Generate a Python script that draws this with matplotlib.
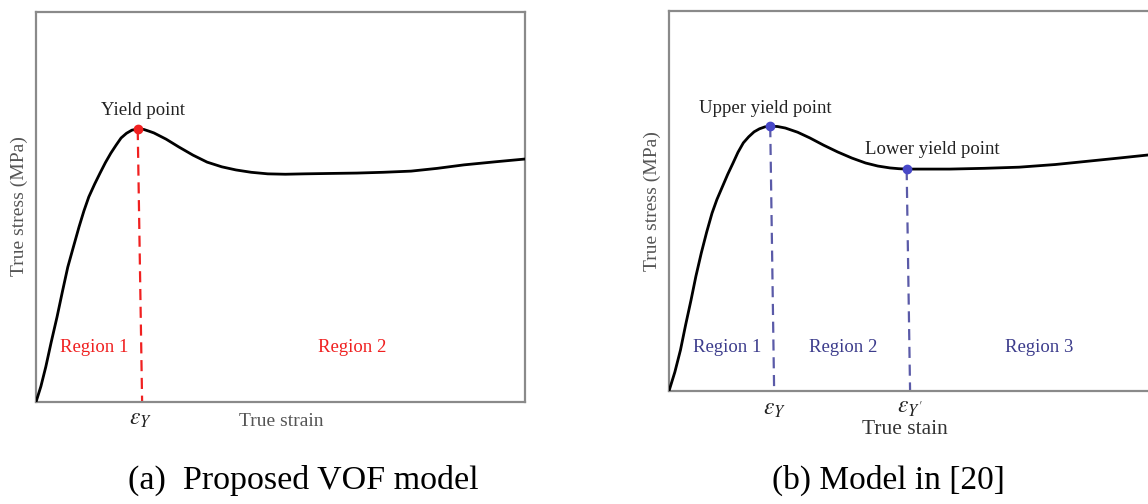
import matplotlib
matplotlib.use("Agg")
import matplotlib.pyplot as plt

plt.rcParams['font.family'] = ['Liberation Serif', 'DejaVu Serif']
plt.rcParams['mathtext.fontset'] = 'stix'

# ---- data (normalised strain 0..1, stress as % of axis height) ----
strain_a = [0.000, 0.010, 0.020, 0.031, 0.043, 0.054, 0.065, 0.077, 0.088, 0.098,
            0.108, 0.120, 0.131, 0.142, 0.153, 0.164, 0.174, 0.185, 0.196, 0.208,
            0.220, 0.232, 0.241, 0.266, 0.292, 0.321, 0.350, 0.380, 0.409, 0.440,
            0.474, 0.510, 0.548, 0.600, 0.656, 0.710, 0.767, 0.820, 0.875, 0.940, 1.000]
stress_a = [0.0, 4.0, 9.0, 15.3, 21.8, 28.3, 34.6, 40.0, 44.9, 49.0,
            52.6, 55.9, 58.7, 61.4, 63.8, 65.9, 67.7, 68.9, 69.7, 70.0,
            69.9, 69.4, 69.0, 67.4, 65.4, 63.3, 61.5, 60.3, 59.5, 58.9,
            58.5, 58.4, 58.5, 58.6, 58.7, 58.9, 59.2, 59.9, 60.8, 61.6, 62.3]
yield_a = (0.208, 70.0)
eps_tick_a = [0.217]
regions_a = ["Region 1", "Region 2"]

strain_b = [0.000, 0.012, 0.0235, 0.034, 0.045, 0.055, 0.066, 0.077, 0.088, 0.098,
            0.109, 0.120, 0.131, 0.141, 0.152, 0.163, 0.174, 0.185, 0.196, 0.207,
            0.222, 0.238, 0.263, 0.288, 0.316, 0.345, 0.374, 0.402, 0.427, 0.452,
            0.470, 0.486, 0.530, 0.574, 0.645, 0.716, 0.790, 0.859, 0.920, 0.979, 1.000]
stress_b = [0.0, 5.0, 10.8, 17.4, 23.9, 30.2, 36.3, 41.8, 46.8, 50.4,
            53.7, 57.0, 60.0, 62.8, 65.3, 66.9, 68.2, 69.0, 69.5, 69.7,
            69.6, 69.2, 68.1, 66.6, 64.7, 62.9, 61.3, 60.0, 59.2, 58.7,
            58.5, 58.4, 58.4, 58.4, 58.6, 58.9, 59.6, 60.5, 61.3, 62.1, 62.5]
upper_yield_b = (0.207, 69.7)
lower_yield_b = (0.486, 58.4)
eps_tick_b = [0.215, 0.493]
regions_b = ["Region 1", "Region 2", "Region 3"]

W, H = 1148, 504
fig = plt.figure(figsize=(W / 100, H / 100), dpi=100)

def px_axes(x0, y_top, w, y_bot):
    return fig.add_axes([x0 / W, 1 - y_bot / H, w / W, (y_bot - y_top) / H])

spine_col = '#8a8a8a'
gray_txt = '#555555'
red = '#f02020'
blue_pt = '#4848c8'
blue_txt = '#3c3c8c'
blue_ln = '#5a5aa8'

def style(ax):
    ax.set_xlim(0, 1)
    ax.set_ylim(0, 100)
    ax.set_xticks([])
    ax.set_yticks([])
    for s in ax.spines.values():
        s.set_color(spine_col)
        s.set_linewidth(1.6)

# ---- panel (a) ----
axa = px_axes(36, 12, 489, 402)
style(axa)
axa.plot(strain_a, stress_a, color='black', lw=2.0, solid_joinstyle='round', zorder=3)
axa.plot([yield_a[0], eps_tick_a[0]], [yield_a[1], 0], color=red, lw=1.6,
         dashes=(5, 3), zorder=2)
axa.plot([yield_a[0]], [yield_a[1]], 'o', color=red, ms=6, zorder=4)
axa.text(yield_a[0] + 0.01, yield_a[1] + 2.5, "Yield point", ha='center', va='bottom',
         fontsize=13.5, color='#222222')
axa.text(0.12, 14, regions_a[0], ha='center', va='center', fontsize=13.5, color=red)
axa.text(0.646, 14, regions_a[1], ha='center', va='center', fontsize=13.5, color=red)
axa.text(eps_tick_a[0] - 0.003, -1.8, r'$\varepsilon_Y$', ha='center', va='top',
         fontsize=17, color='#222222')
fig.text(281 / W, 1 - 421 / H, "True strain", ha='center', va='center', fontsize=14,
         color=gray_txt)
fig.text(19.5 / W, 1 - 206 / H, "True stress (MPa)", rotation=90, ha='center',
         va='center', fontsize=14, color=gray_txt)
fig.text(303 / W, 1 - 480 / H, "(a)  Proposed VOF model", ha='center', va='center',
         fontsize=24.5, color='black')

# ---- panel (b) ----
axb = px_axes(669, 11, 489, 391)
style(axb)
axb.plot(strain_b, stress_b, color='black', lw=2.0, solid_joinstyle='round', zorder=3)
for (px, py), tx in zip([upper_yield_b, lower_yield_b], eps_tick_b):
    axb.plot([px, tx], [py, 0], color=blue_ln, lw=1.6, dashes=(5, 3), zorder=2)
axb.plot([upper_yield_b[0], lower_yield_b[0]], [upper_yield_b[1], lower_yield_b[1]],
         'o', color=blue_pt, ms=6, linestyle='none', zorder=4)
axb.text(upper_yield_b[0] - 0.01, upper_yield_b[1] + 2.5, "Upper yield point",
         ha='center', va='bottom', fontsize=13.5, color='#222222')
axb.text(lower_yield_b[0] + 0.053, lower_yield_b[1] + 3.0, "Lower yield point",
         ha='center', va='bottom', fontsize=13.5, color='#222222')
axb.text(0.119, 11.5, regions_b[0], ha='center', va='center', fontsize=13.5, color=blue_txt)
axb.text(0.357, 11.5, regions_b[1], ha='center', va='center', fontsize=13.5, color=blue_txt)
axb.text(0.757, 11.5, regions_b[2], ha='center', va='center', fontsize=13.5, color=blue_txt)
axb.text(eps_tick_b[0], -2.0, r'$\varepsilon_Y$', ha='center', va='top',
         fontsize=17, color='#222222')
axb.text(eps_tick_b[1], -2.0, r"$\varepsilon_{Y'}$", ha='center', va='top',
         fontsize=17, color='#222222')
fig.text(905 / W, 1 - 430 / H, "True stain", ha='center', va='center', fontsize=15.5,
         color='#333333')
fig.text(652 / W, 1 - 201 / H, "True stress (MPa)", rotation=90, ha='center',
         va='center', fontsize=14, color=gray_txt)
fig.text(888 / W, 1 - 480 / H, "(b) Model in [20]", ha='center', va='center',
         fontsize=24, color='black')

fig.savefig("out.png", dpi=100)
